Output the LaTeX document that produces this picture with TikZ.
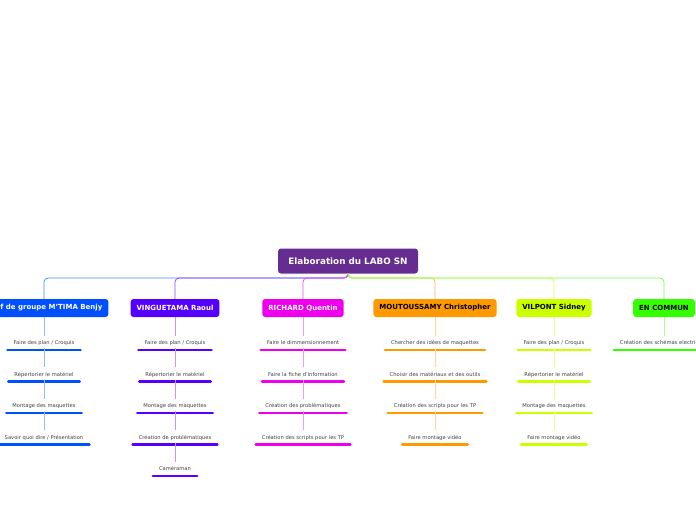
\documentclass[tikz,border=0pt]{standalone}
\usepackage{fontspec}
\setmainfont{DejaVu Sans}
\begin{document}
\begin{tikzpicture}[x=1pt,y=-1pt,
  rootbox/.style={fill=root,rounded corners=3pt,text=white,font=\bfseries\fontsize{8.8}{10}\selectfont,minimum width=140pt,minimum height=25pt},
  br/.style={fill=#1,rounded corners=3pt,font=\bfseries\fontsize{7}{8}\selectfont,minimum height=18pt,inner xsep=6pt},
  leaf/.style={font=\fontsize{5.2}{6}\selectfont,text=black!75,inner xsep=6pt,inner ysep=0pt,minimum height=14pt,text depth=0pt},
  ul/.style={line width=2.5pt,line cap=round,draw=#1},
  conn/.style={draw=#1,line width=0.8pt,rounded corners=4pt},
  sub/.style={draw=#1,line width=0.7pt}]
\definecolor{root}{HTML}{662D91}
\definecolor{cA}{HTML}{0050FF}\definecolor{cB}{HTML}{5500FF}\definecolor{cC}{HTML}{EE00EE}
\definecolor{cD}{HTML}{FF9900}\definecolor{cE}{HTML}{CCFF00}\definecolor{cF}{HTML}{33FF00}
\clip (0,0) rectangle (696,520);
\useasboundingbox (0,0) rectangle (696,520);
\node[rootbox] (r) at (348,261) {Elaboration du LABO SN};
\coordinate (rb) at (348,273);
\foreach \n/\x/\c/\tc/\t in {a/44/cA/white/{Chef de groupe M'TIMA Benjy},b/175/cB/white/{VINGUETAMA Raoul},c/303/cC/white/{RICHARD Quentin},d/435/cD/black/{MOUTOUSSAMY Christopher},e/554/cE/black/{VILPONT Sidney},f/664/cF/black/{EN COMMUN}}{
  \node[br=\c, text=\tc] (\n) at (\x,308) {\t};
  \draw[conn=\c!70] (rb) -- (348,278) -- (\x,278) -- (\n.north);
}
\foreach \n/\x/\c/\lst in {
  a/44/cA/{Faire des plan / Croquis,Répertorier le matériel,Montage des maquettes,Savoir quoi dire / Présentation},
  b/175/cB/{Faire des plan / Croquis,Répertorier le matériel,Montage des maquettes,Création de problématiques,Caméraman},
  c/303/cC/{Faire le dimmensionnement,Faire la fiche d'information,Création des problématiques,Création des scripts pour les TP},
  d/435/cD/{Chercher des idées de maquettes,Choisir des matériaux et des outils,Création des scripts pour les TP,Faire montage vidéo},
  e/554/cE/{Faire des plan / Croquis,Répertorier le matériel,Montage des maquettes,Faire montage vidéo},
  f/664/cF/{Création des schémas electriques}}{
  \foreach \t [count=\i] in \lst {
    \pgfmathsetmacro{\yy}{343+31.5*(\i-1)}
    \node[leaf,anchor=south] (\n\i) at (\x,\yy+7) {\t};
    \ifnum\i=1
      \draw[sub=\c!40] (\n.south) -- (\n\i.north);
    \else
      \pgfmathtruncatemacro{\j}{\i-1}
      \draw[sub=\c!40] ([yshift=2pt]\n\j.south) -- (\n\i.north);
    \fi
    \draw[ul=\c] (\n\i.south west) -- (\n\i.south east);
  }
}
\end{tikzpicture}
\end{document}
